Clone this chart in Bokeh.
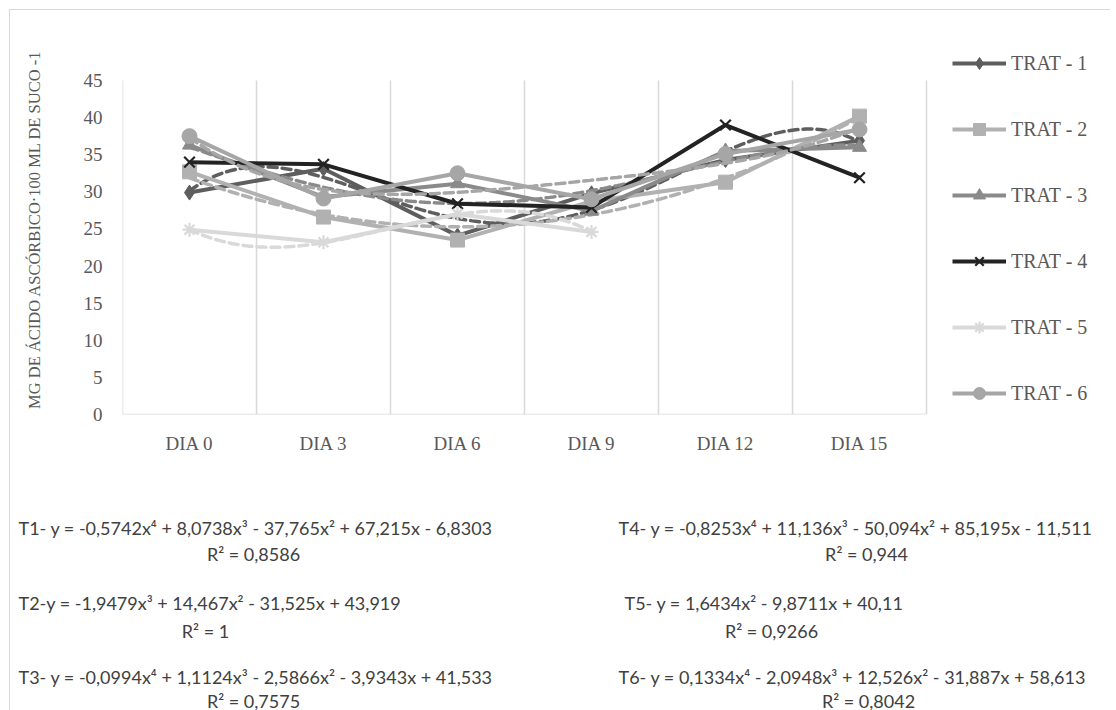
import numpy as np
from bokeh.plotting import figure
from bokeh.layouts import column
from bokeh.models import Range1d, FixedTicker, Legend, LegendItem, Label
from bokeh.embed import file_html
from bokeh.resources import INLINE

# ---------------- data ----------------
categories = ["DIA 0", "DIA 3", "DIA 6", "DIA 9", "DIA 12", "DIA 15"]
names = ["TRAT - 1", "TRAT - 2", "TRAT - 3", "TRAT - 4", "TRAT - 5", "TRAT - 6"]
trat1 = [29.9, 33.1, 24.1, 29.8, 34.3, 36.9]
trat2 = [32.7, 26.6, 23.5, 28.7, 31.3, 40.2]
trat3 = [36.3, 29.3, 31.1, 27.4, 35.5, 36.0]
trat4 = [34.0, 33.7, 28.4, 27.9, 39.0, 31.9]
trat5 = [24.9, 23.2, 27.0, 24.6]
trat6 = [37.5, 29.1, 32.5, 29.0, 35.1, 38.4]
y_ticks = [0, 5, 10, 15, 20, 25, 30, 35, 40, 45]

# polynomial trendline coefficients (highest degree first), None = no trendline drawn
trend1 = [-0.5742, 8.0738, -37.765, 67.215, -6.8303]
trend2 = [1.6434, -9.8711, 40.11]
trend3 = [-0.0994, 1.1124, -2.5866, -3.9343, 41.533]
trend4 = None
trend5 = [-1.9479, 14.467, -31.525, 43.919]
trend6 = [0.1334, -2.0948, 12.526, -31.887, 58.613]

eq_left = [
    ("T1- y = -0,5742x⁴ + 8,0738x³ - 37,765x² + 67,215x - 6,8303", "R² = 0,8586"),
    ("T2-y = -1,9479x³ + 14,467x² - 31,525x + 43,919", "R² = 1"),
    ("T3- y = -0,0994x⁴ + 1,1124x³ - 2,5866x² - 3,9343x + 41,533", "R² = 0,7575"),
]
eq_right = [
    ("T4- y = -0,8253x⁴ + 11,136x³ - 50,094x² + 85,195x - 11,511", "R² = 0,944"),
    ("T5- y = 1,6434x² - 9,8711x + 40,11", "R² = 0,9266"),
    ("T6- y = 0,1334x⁴ - 2,0948x³ + 12,526x² - 31,887x + 58,613", "R² = 0,8042"),
]

series = [trat1, trat2, trat3, trat4, trat5, trat6]
trends = [trend1, trend2, trend3, trend4, trend5, trend6]

# ---------------- styles / layout ----------------
colors = ["#5e5e5e", "#b1b1b1", "#8a8a8a", "#232323", "#d9d9d9", "#a6a6a6"]
markers = ["diamond", "square", "triangle", "x", "asterisk", "circle"]
msizes = [15, 14, 14, 15, 14, 15]
SERIF = "Liberation Serif"
TXT = "#595959"
GRID = "#d9d9d9"

ORG = 10                      # page offset of figure content
FRAME_L, FRAME_R = 122, 1106  # page x of frame
PLOT_R = 926                  # page x of right edge of category area
FRAME_T, FRAME_B = 44, 414    # page y of frame top / value 0
PLOT_T = 80                   # page y of value 45
W = 1100
H1 = 458
H2 = 242

n = len(categories)
ymax = max(y_ticks)
y_end = ymax * (FRAME_B - FRAME_T) / (FRAME_B - PLOT_T)
x_end = 0.5 + n * (FRAME_R - FRAME_L) / (PLOT_R - FRAME_L)

p = figure(width=W, height=H1, output_backend="svg", toolbar_location=None,
           x_range=Range1d(0.5, x_end), y_range=Range1d(0, y_end),
           min_border_left=FRAME_L - ORG, min_border_right=W - (FRAME_R - ORG),
           min_border_top=FRAME_T - ORG, min_border_bottom=H1 - (FRAME_B - ORG))
p.frame_align = False
p.outline_line_color = None
p.background_fill_color = "white"
p.xgrid.visible = False
p.ygrid.visible = False

# category separators and base line (drawn from the categories / ticks)
bounds = [i + 0.5 for i in range(n + 1)]
p.segment(x0=bounds, y0=[0] * len(bounds), x1=bounds, y1=[ymax] * len(bounds),
          line_color=GRID, line_width=1.5)
p.segment(x0=[0.5], y0=[0], x1=[n + 0.5], y1=[0], line_color=GRID, line_width=1.5)

p.xaxis.ticker = FixedTicker(ticks=list(range(1, n + 1)))
p.xaxis.major_label_overrides = {i + 1: c for i, c in enumerate(categories)}
p.yaxis.ticker = FixedTicker(ticks=y_ticks)
for ax in (p.xaxis[0], p.yaxis[0]):
    ax.axis_line_color = None
    ax.major_tick_line_color = None
    ax.minor_tick_line_color = None
    ax.major_label_text_font = SERIF
    ax.major_label_text_font_size = "19px"
    ax.major_label_text_color = TXT
p.xaxis.major_label_standoff = 12
p.yaxis.major_label_standoff = 14
p.yaxis.axis_label = "MG DE ÁCIDO ASCÓRBICO·100 ML DE SUCO -1"
p.yaxis.axis_label_text_font = SERIF
p.yaxis.axis_label_text_font_size = "16.5px"
p.yaxis.axis_label_text_font_style = "normal"
p.yaxis.axis_label_text_color = TXT
p.yaxis.axis_label_standoff = 37

items = []
for i, (vals, coef) in enumerate(zip(series, trends)):
    xs = list(range(1, len(vals) + 1))
    ln = p.line(xs, vals, line_color=colors[i], line_width=4, line_join="round")
    if coef is not None:
        tx = np.linspace(1, len(vals), 200)
        ty = np.polyval(coef, tx)
        p.line(tx, ty, line_color=colors[i], line_width=3.5, line_dash="9 5",
               line_cap="round")
    mk = p.scatter(xs, vals, marker=markers[i], size=msizes[i],
                   fill_color=colors[i], line_color=colors[i],
                   line_width=2.2 if markers[i] in ("x", "asterisk") else 1)
    items.append(LegendItem(label=names[i], renderers=[ln, mk]))

legend = Legend(items=items, location=(952 - FRAME_L, FRAME_B - 408),
                orientation="vertical",
                glyph_width=54, glyph_height=30, label_height=30, spacing=36,
                label_standoff=5, padding=0, margin=0,
                border_line_color=None, background_fill_alpha=0,
                label_text_font=SERIF, label_text_font_size="20px",
                label_text_color=TXT, label_text_baseline="middle")
p.add_layout(legend, "center")

# ---------------- equations panel ----------------
q = figure(width=W, height=H2, output_backend="svg", toolbar_location=None,
           x_range=Range1d(0, W), y_range=Range1d(0, H2),
           min_border=0, min_border_left=0, min_border_right=0,
           min_border_top=0, min_border_bottom=0)
q.frame_align = False
q.axis.visible = False
q.grid.visible = False
q.outline_line_color = None

Q_TOP = ORG + H1          # page y of panel top
Q_BOT = Q_TOP + H2
EQF = "Lato"
rows_y = [527, 602, 676]
r2_y = [553, 630, 700]
left_eq_x = [18, 18, 18]
left_r2_x = [253, 205, 253]
right_eq_x = [618, 624, 618]
right_r2_x = [866, 771, 868]


def add_text(px, py, txt, align):
    q.add_layout(Label(x=px - ORG, y=Q_BOT - py, x_units="screen", y_units="screen",
                       text=txt, text_font=EQF, text_font_size="18px",
                       text_color="#404040", text_baseline="middle",
                       text_align=align))


for k, (eq, r2) in enumerate(eq_left):
    add_text(left_eq_x[k], rows_y[k], eq, "left")
    add_text(left_r2_x[k], r2_y[k], r2, "center")
for k, (eq, r2) in enumerate(eq_right):
    add_text(right_eq_x[k], rows_y[k], eq, "left")
    add_text(right_r2_x[k], r2_y[k], r2, "center")

layout = column(p, q, spacing=0)
layout.styles = {"margin-left": "9px", "margin-top": "9px",
                 "border-top": "1px solid #d9d9d9", "border-left": "1px solid #d9d9d9"}

open("out.html", "w").write(file_html(layout, INLINE))
